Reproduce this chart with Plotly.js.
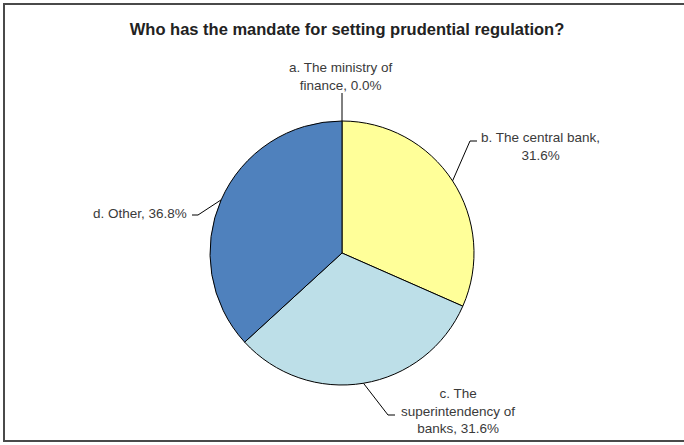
<!DOCTYPE html>
<html>
<head>
<meta charset="utf-8">
<script src="https://cdn.plot.ly/plotly-3.0.1.min.js"></script>
<style>
  html, body { margin: 0; padding: 0; background: #ffffff; }
  #chart { width: 684px; height: 445px; }
</style>
</head>
<body>
<div id="chart"></div>
<script>
// Survey answers: who sets prudential regulation (share of respondents, %)
const categories = [
  'a. The ministry of finance',
  'b. The central bank',
  'c. The superintendency of banks',
  'd. Other'
];
const shares = [0.0, 31.6, 31.6, 36.8];

const sliceColors = ['#4F81BD', '#FFFF99', '#BDDFE8', '#4F81BD'];

const W = 684, H = 445;
const CX = 342, CY = 253, R = 132;          // pie centre and radius in px
const px = x => x / W;
const py = y => 1 - y / H;

// wrap a label into lines no longer than maxChars
function wrap(text, maxChars) {
  const words = text.split(' ');
  const lines = [];
  let cur = '';
  words.forEach(w => {
    const t = cur ? cur + ' ' + w : w;
    if (t.length > maxChars && cur) { lines.push(cur); cur = w; }
    else cur = t;
  });
  if (cur) lines.push(cur);
  return lines.join('<br>');
}

// label placement: text anchor, elbow and end of the leader line (px)
const labelSpots = [
  { x: 341, y: 76,  xa: 'center', wrapAt: 18, elbow: null,        end: [342, 93] },
  { x: 540, y: 146, xa: 'center', wrapAt: 20, elbow: [470, 141],  end: [477, 141] },
  { x: 458, y: 411, xa: 'center', wrapAt: 18, elbow: [388, 415],  end: [395, 415] },
  { x: 189, y: 213, xa: 'right',  wrapAt: 30, elbow: [198, 215],  end: [192, 215] }
];

const total = shares.reduce((a, b) => a + b, 0);
const annotations = [];
const shapes = [];
let start = 0;
shares.forEach((v, i) => {
  const mid = (start + v / 2) / total * 2 * Math.PI;   // clockwise from 12 o'clock
  start += v;
  const ex = CX + R * Math.sin(mid);
  const ey = CY - R * Math.cos(mid);
  const s = labelSpots[i];
  annotations.push({
    xref: 'paper', yref: 'paper',
    x: px(s.x), y: py(s.y),
    xanchor: s.xa, yanchor: 'middle',
    align: 'center',
    showarrow: false,
    text: wrap(categories[i] + ', ' + v.toFixed(1) + '%', s.wrapAt),
    font: { family: 'Liberation Sans, Arial, sans-serif', size: 13.5, color: '#3a3a3a' }
  });
  let path = 'M ' + px(ex) + ',' + py(ey);
  if (s.elbow) path += ' L ' + px(s.elbow[0]) + ',' + py(s.elbow[1]);
  path += ' L ' + px(s.end[0]) + ',' + py(s.end[1]);
  shapes.push({
    type: 'path', xref: 'paper', yref: 'paper', path: path,
    line: { color: '#000000', width: 1 }
  });
});

// outer frame: top, left and bottom edges (the right edge lies off the page)
shapes.push({
  type: 'path', xref: 'paper', yref: 'paper',
  path: 'M 1,' + py(4) + ' L ' + px(4) + ',' + py(4) +
        ' L ' + px(4) + ',' + py(441) + ' L 1,' + py(441),
  line: { color: '#4a4a4a', width: 2 }, layer: 'above'
});

const data = [{
  type: 'pie',
  labels: categories,
  values: shares,
  sort: false,
  direction: 'clockwise',
  rotation: 0,
  textinfo: 'none',
  hoverinfo: 'label+percent',
  marker: { colors: sliceColors, line: { color: '#000000', width: 1 } },
  domain: { x: [px(CX - R), px(CX + R)], y: [py(CY + R), py(CY - R)] },
  showlegend: false
}];

const layout = {
  width: W, height: H,
  margin: { l: 0, r: 0, t: 0, b: 0 },
  paper_bgcolor: '#ffffff',
  showlegend: false,
  title: {
    text: '<b>Who has the mandate for setting prudential regulation?</b>',
    x: px(347), xanchor: 'center', xref: 'paper',
    y: py(29), yanchor: 'middle', yref: 'container',
    font: { family: 'Liberation Sans, Arial, sans-serif', size: 16.5, color: '#222222' }
  },
  annotations: annotations,
  shapes: shapes
};

Plotly.newPlot('chart', data, layout, { displayModeBar: false, staticPlot: true });
</script>
</body>
</html>
